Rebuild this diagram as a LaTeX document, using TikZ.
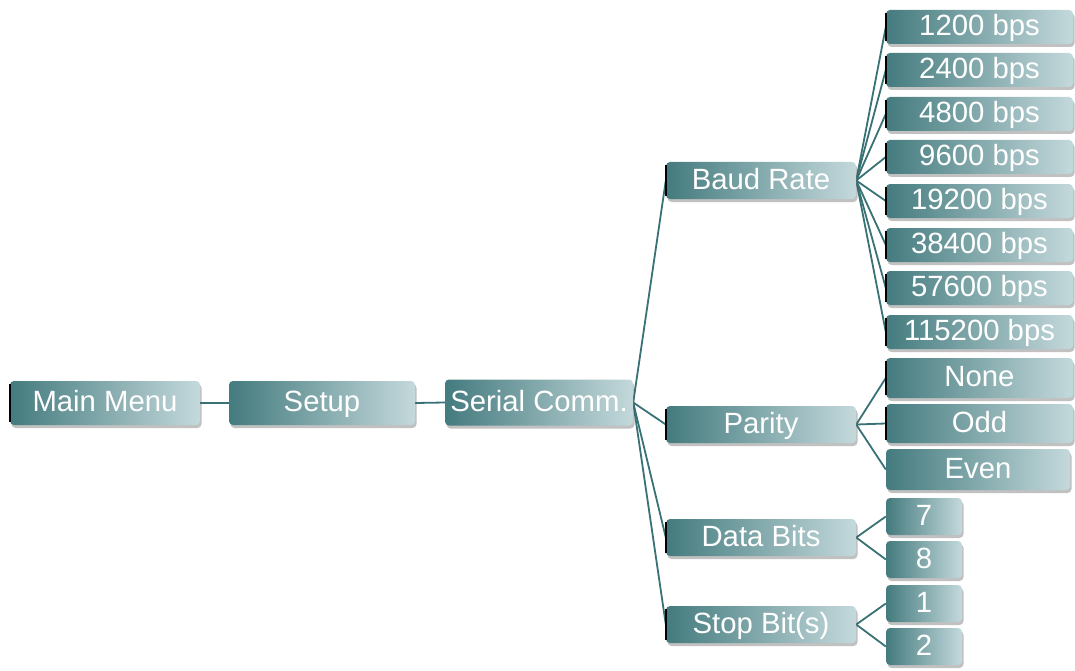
\documentclass[tikz,border=0pt]{standalone}
\usepackage{fontspec}
\setmainfont{Liberation Sans}
\usetikzlibrary{shadows,backgrounds}
\definecolor{tdark}{RGB}{68,123,126}
\definecolor{tlight}{RGB}{196,217,220}
\definecolor{tline}{RGB}{56,114,116}
\tikzset{
  box/.style={rectangle, rounded corners=4pt, inner sep=0pt,
    left color=tdark, right color=tlight, text=white,
    font=\fontsize{29.3}{31}\selectfont, text height=21.5pt, text depth=4pt,
    drop shadow={shadow xshift=1.5pt, shadow yshift=-3pt, opacity=0.35, fill=black!70}},
  wA/.style={minimum width=190pt, minimum height=44pt},
  wB/.style={minimum width=190pt, minimum height=37pt},
  wC/.style={minimum width=187pt, minimum height=34pt},
  wD/.style={minimum width=76pt, minimum height=37pt},
  conn/.style={draw=tline, line width=1.8pt},
  ledge/.style={draw=black, line width=1.6pt}
}
\begin{document}
\begin{tikzpicture}[x=1pt,y=-1pt]
\useasboundingbox (0,0) rectangle (1075,671);
% level 0-1
\node[box,wA] (main) at (105,403) {Main Menu};
\node[box,wA,minimum width=186pt] (setup) at (322,403) {Setup};
\node[box,wA,minimum width=188pt,minimum height=46pt] (serial) at (539,402.5) {Serial Comm.};
% level 2
\node[box,wB] (baud) at (761,180.5) {Baud Rate};
\node[box,wB] (parity) at (761,424.5) {Parity};
\node[box,wB] (data) at (761,537.5) {Data Bits};
\node[box,wB] (stop) at (761,624.5) {Stop Bit(s)};
% baud items
\node[box,wC] (b1) at (979.5,27) {1200 bps};
\node[box,wC] (b2) at (979.5,70) {2400 bps};
\node[box,wC] (b3) at (979.5,114) {4800 bps};
\node[box,wC] (b4) at (979.5,157) {9600 bps};
\node[box,wC] (b5) at (979.5,201) {19200 bps};
\node[box,wC] (b6) at (979.5,245) {38400 bps};
\node[box,wC] (b7) at (979.5,288) {57600 bps};
\node[box,wC] (b8) at (979.5,332) {115200 bps};
% parity items
\node[box,wC,minimum height=40pt] (p1) at (979.5,378) {None};
\node[box,wC,minimum height=39pt] (p2) at (979.5,423.5) {Odd};
\node[box,wC,minimum width=184pt,minimum height=41pt] (p3) at (978,469.5) {Even};
% data / stop items
\node[box,wD] (d1) at (924,516.5) {7};
\node[box,wD] (d2) at (924,559.5) {8};
\node[box,wD] (s1) at (924,603.5) {1};
\node[box,wD] (s2) at (924,646.5) {2};
% left edges
\foreach \n in {main,baud,parity,data,stop,b1,b2,b3,b4,b5,b6,b7,b8,p1,p2}
  \draw[ledge] ([yshift=-3pt]\n.north west) -- ([yshift=3pt]\n.south west);
% connectors
\begin{scope}[on background layer]
\draw[conn] (main.east) -- (setup.west);
\draw[conn] (setup.east) -- (serial.west);
\foreach \c in {baud,parity,data,stop}
  \draw[conn] (serial.east) -- (\c.west);
\foreach \c in {b1,b2,b3,b4,b5,b6,b7,b8}
  \draw[conn] (baud.east) -- (\c.west);
\foreach \c in {p1,p2,p3}
  \draw[conn] (parity.east) -- (\c.west);
\foreach \c in {d1,d2}
  \draw[conn] (data.east) -- (\c.west);
\foreach \c in {s1,s2}
  \draw[conn] (stop.east) -- (\c.west);
\end{scope}
\end{tikzpicture}
\end{document}
